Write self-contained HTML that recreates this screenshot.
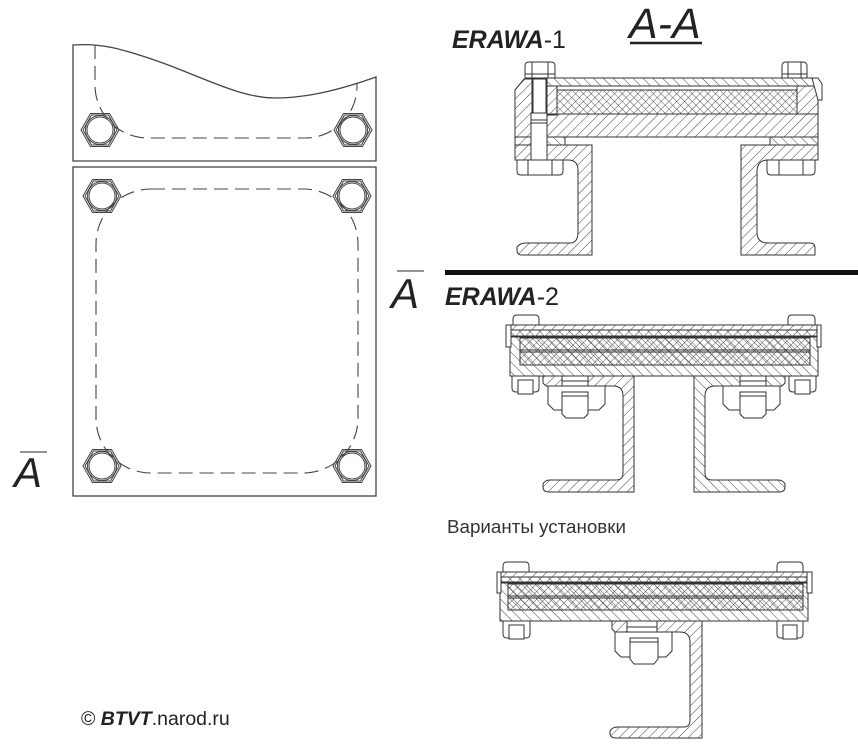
<!DOCTYPE html>
<html><head><meta charset="utf-8"><style>
html,body{margin:0;padding:0;background:#fff;}
svg{display:block;}
</style></head><body>
<svg width="858" height="745" viewBox="0 0 858 745" xmlns="http://www.w3.org/2000/svg" font-family="'Liberation Sans', sans-serif">
<defs>
<pattern id="hA" patternUnits="userSpaceOnUse" width="7" height="7" patternTransform="rotate(45)"><line x1="0" y1="0" x2="0" y2="7" stroke="#444" stroke-width="1"/></pattern>
<pattern id="hB" patternUnits="userSpaceOnUse" width="7" height="7" patternTransform="rotate(-45)"><line x1="0" y1="0" x2="0" y2="7" stroke="#444" stroke-width="1"/></pattern>
<pattern id="hX" patternUnits="userSpaceOnUse" width="5.5" height="5.5" patternTransform="rotate(45)"><line x1="0" y1="0" x2="0" y2="5.5" stroke="#444" stroke-width="0.9"/><line x1="0" y1="0" x2="5.5" y2="0" stroke="#444" stroke-width="0.9"/></pattern>
<g id="bolt" fill="none" stroke="#444" stroke-width="1">
<polygon points="-19,0 -9.5,-16.5 9.5,-16.5 19,0 9.5,16.5 -9.5,16.5"/>
<polygon points="-17,0 -8.5,-15 8.5,-15 17,0 8.5,15 -8.5,15"/>
<circle r="14.5"/><circle r="13"/>
</g>
</defs>

<!-- ===== LEFT: top partial view ===== -->
<g fill="none" stroke="#444" stroke-width="1.3">
<path d="M73,161 L73,45 C100,43 120,48 160,62 S240,98 275,98 S345,88 376,77 L376,161 Z"/>
<rect x="73" y="167" width="303" height="329"/>
</g>
<g fill="none" stroke="#444" stroke-width="1.1" stroke-dasharray="14,7">
<path d="M95,45 L95,85 A53,53 0 0 0 148,138 L305,138 A52,52 0 0 0 357,86 L357,83"/>
<rect x="96" y="189" width="262" height="284" rx="55" ry="55"/>
</g>
<use href="#bolt" x="100" y="130"/>
<use href="#bolt" x="353" y="130"/>
<use href="#bolt" x="102" y="196"/>
<use href="#bolt" x="352" y="196"/>
<use href="#bolt" x="102" y="466"/>
<use href="#bolt" x="352" y="466"/>

<!-- A labels -->
<line x1="20" y1="452" x2="47" y2="452" stroke="#555" stroke-width="1.2"/>
<text x="14" y="487" font-size="42" font-style="italic" fill="#222">A</text>
<line x1="397" y1="271" x2="424" y2="271" stroke="#555" stroke-width="1.2"/>
<text x="391" y="308" font-size="42" font-style="italic" fill="#222">A</text>

<!-- titles -->
<text x="452" y="48" font-size="25" fill="#222"><tspan font-weight="bold" font-style="italic">ERAWA</tspan>-1</text>
<text x="629" y="38" font-size="43" font-style="italic" fill="#222">A-A</text>
<line x1="630" y1="43" x2="702" y2="43" stroke="#222" stroke-width="2.5"/>
<rect x="445" y="270" width="413" height="5" fill="#111"/>
<text x="445" y="305" font-size="25" fill="#222"><tspan font-weight="bold" font-style="italic">ERAWA</tspan>-2</text>
<text x="447" y="533" font-size="18.8" fill="#333">Варианты установки</text>
<text x="81" y="725" font-size="19.5" fill="#222">© <tspan font-weight="bold" font-style="italic">BTVT</tspan>.narod.ru</text>

<!-- ===== ERAWA-1 section ===== -->
<g stroke="#333" stroke-width="1">
<rect x="547" y="78" width="271" height="8" fill="url(#hB)"/>
<polygon points="515,90 524,79 532,79 532,160 515,160" fill="url(#hA)"/>
<rect x="547" y="86" width="10" height="29" fill="url(#hA)"/>
<rect x="547" y="114" width="271" height="23" fill="url(#hA)"/>
<rect x="797" y="86" width="21" height="28" fill="url(#hA)"/>
<rect x="557" y="90" width="240" height="24" fill="url(#hX)"/>
<polygon points="812,78 818,78 822,84 822,100 818,100" fill="#fff"/>
<line x1="515" y1="137" x2="532" y2="137"/><line x1="515" y1="145" x2="532" y2="145"/>
<rect x="547" y="137" width="18" height="8" fill="url(#hB)"/>
<rect x="770" y="137" width="48" height="8" fill="url(#hB)"/>
<path d="M547,145 L592,145 L592,255 L522,255 Q517,255 517,250 L517,247 Q520,243 526,243 L570,243 Q578,243 578,232 L578,170 Q578,160 568,160 L547,160 Z" fill="url(#hA)"/>
<path d="M741,145 L818,145 L818,160 L768,160 Q757,160 757,172 L757,232 Q757,243 768,243 L810,243 Q815,243 815,248 L815,255 L741,255 Z" fill="url(#hA)"/>
<rect x="533" y="79" width="13" height="34" fill="#fff"/>
<rect x="531" y="113" width="16" height="47" fill="#fff"/>
<line x1="531" y1="120" x2="547" y2="120"/><line x1="531" y1="123" x2="547" y2="123"/>
<path d="M525,78 L525,66 Q525,62 529,62 L551,62 Q555,62 555,66 L555,78 Z" fill="#fff"/>
<line x1="525" y1="74" x2="555" y2="74"/><line x1="532" y1="62" x2="532" y2="78"/><line x1="548" y1="62" x2="548" y2="78"/>
<path d="M782,78 L782,66 Q782,62 786,62 L803,62 Q807,62 807,66 L807,78 Z" fill="#fff"/>
<line x1="782" y1="74" x2="807" y2="74"/><line x1="788" y1="62" x2="788" y2="78"/><line x1="801" y1="62" x2="801" y2="78"/>
<path d="M517,160 L563,160 L563,171 Q563,175 559,175 L521,175 Q517,175 517,171 Z" fill="#fff"/>
<line x1="528" y1="160" x2="528" y2="175"/><line x1="552" y1="160" x2="552" y2="175"/>
<path d="M767,160 L815,160 L815,171 Q815,175 811,175 L771,175 Q767,175 767,171 Z" fill="#fff"/>
<line x1="779" y1="160" x2="779" y2="175"/><line x1="803" y1="160" x2="803" y2="175"/>
</g>

<!-- ===== ERAWA-2 section ===== -->
<g stroke="#333" stroke-width="1">
<rect x="510" y="330" width="308" height="46" fill="url(#hB)"/>
<rect x="520" y="338" width="290" height="27" fill="url(#hX)"/>
<line x1="520" y1="350" x2="810" y2="350"/><line x1="520" y1="352" x2="810" y2="352"/>
<rect x="510" y="325" width="308" height="11" fill="url(#hA)"/>
<line x1="510" y1="337" x2="818" y2="337"/>
<rect x="506" y="325" width="5" height="22" fill="#fff"/>
<rect x="817" y="325" width="4" height="22" fill="#fff"/>
<path d="M513,325 L513,319 Q513,315 517,315 L535,315 Q539,315 539,319 L539,325 Z" fill="#fff"/>
<path d="M788,325 L788,319 Q788,315 792,315 L811,315 Q815,315 815,319 L815,325 Z" fill="#fff"/>
<path d="M512,376 L539,376 L539,388 Q539,392 535,392 L516,392 Q512,392 512,388 Z" fill="#fff"/>
<rect x="518" y="380" width="15" height="14" fill="#fff"/>
<path d="M789,376 L816,376 L816,388 Q816,392 812,392 L793,392 Q789,392 789,388 Z" fill="#fff"/>
<rect x="795" y="380" width="15" height="14" fill="#fff"/>
<!-- left channel -->
<polygon points="543,376 562,376 562,386 546,386 543,383" fill="url(#hA)"/>
<path d="M588,376 L634,376 L634,492 L549,492 Q543,492 543,487 L543,484 Q545,480 550,480 L616,480 Q623,480 623,473 L623,396 Q623,386 613,386 L588,386 Z" fill="url(#hA)"/>
<rect x="562" y="376" width="26" height="10" fill="#fff"/><line x1="562" y1="381" x2="588" y2="381"/>
<path d="M548,386 L605,386 L605,404 L599,410 L554,410 L548,404 Z" fill="#fff"/>
<path d="M562,392 L588,392 L588,414 L584,418 L566,418 L562,414 Z" fill="#fff"/>
<line x1="562" y1="396" x2="588" y2="396"/>
<!-- right channel -->
<polygon points="785,376 766,376 766,386 782,386 785,383" fill="url(#hB)"/>
<path d="M740,376 L694,376 L694,492 L779,492 Q785,492 785,487 L785,484 Q783,480 778,480 L712,480 Q705,480 705,473 L705,396 Q705,386 715,386 L740,386 Z" fill="url(#hB)"/>
<rect x="740" y="376" width="26" height="10" fill="#fff"/><line x1="740" y1="381" x2="766" y2="381"/>
<path d="M723,386 L780,386 L780,404 L774,410 L729,410 L723,404 Z" fill="#fff"/>
<path d="M740,392 L766,392 L766,414 L762,418 L744,418 L740,414 Z" fill="#fff"/>
<line x1="740" y1="396" x2="766" y2="396"/>
</g>

<!-- ===== Variant section ===== -->
<g stroke="#333" stroke-width="1">
<rect x="500" y="577" width="308" height="44" fill="url(#hB)"/>
<rect x="508" y="584" width="295" height="26" fill="url(#hX)"/>
<line x1="508" y1="596" x2="803" y2="596"/><line x1="508" y1="598" x2="803" y2="598"/>
<rect x="500" y="572" width="308" height="10" fill="url(#hA)"/>
<line x1="500" y1="583" x2="808" y2="583"/>
<rect x="497" y="572" width="4" height="21" fill="#fff"/>
<rect x="807" y="572" width="5" height="21" fill="#fff"/>
<path d="M503,572 L503,566 Q503,562 507,562 L525,562 Q529,562 529,566 L529,572 Z" fill="#fff"/>
<path d="M777,572 L777,566 Q777,562 781,562 L799,562 Q803,562 803,566 L803,572 Z" fill="#fff"/>
<path d="M503,621 L530,621 L530,634 Q530,638 526,638 L507,638 Q503,638 503,634 Z" fill="#fff"/>
<rect x="509" y="625" width="15" height="14" fill="#fff"/>
<path d="M777,621 L803,621 L803,634 Q803,638 799,638 L781,638 Q777,638 777,634 Z" fill="#fff"/>
<rect x="783" y="625" width="14" height="14" fill="#fff"/>
<polygon points="612,621 627,621 627,632 615,632 612,629" fill="url(#hA)"/>
<path d="M657,621 L702,621 L702,738 L616,738 Q610,738 610,733 L610,731 Q612,727 618,727 L684,727 Q690,727 690,720 L690,642 Q690,632 680,632 L657,632 Z" fill="url(#hA)"/>
<rect x="627" y="621" width="30" height="11" fill="#fff"/><line x1="627" y1="627" x2="657" y2="627"/>
<path d="M615,632 L672,632 L672,651 L666,657 L621,657 L615,651 Z" fill="#fff"/>
<path d="M630,638 L658,638 L658,659 L654,664 L634,664 L630,659 Z" fill="#fff"/>
<line x1="630" y1="642" x2="658" y2="642"/>
</g>
</svg>
</body></html>
